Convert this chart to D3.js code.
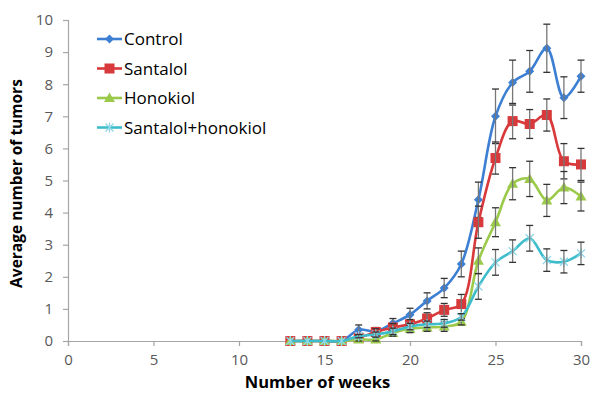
<!DOCTYPE html>
<html>
<head>
<meta charset="utf-8">
<script src="https://cdn.jsdelivr.net/npm/d3@7"></script>
<style>
  html, body { margin: 0; padding: 0; background: #fff; }
  svg { display: block; font-family: "Open Sans", "Liberation Sans", sans-serif; }
</style>
</head>
<body>
<svg id="chart" width="592" height="394"></svg>
<script>
// Weeks of observation
const weeks = [13, 14, 15, 16, 17, 18, 19, 20, 21, 22, 23, 24, 25, 26, 27, 28, 29, 30];

// Mean tumor counts per group, with standard error
const control     = [0, 0, 0, 0, 0.35, 0.3, 0.55, 0.82, 1.25, 1.65, 2.4, 4.4, 7.0, 8.05, 8.4, 9.12, 7.58, 8.25];
const controlErr  = [0, 0, 0, 0, 0.15, 0.12, 0.15, 0.2, 0.25, 0.3, 0.4, 0.55, 0.85, 0.7, 0.65, 0.75, 0.65, 0.5];
const santalol    = [0, 0, 0, 0, 0.1, 0.28, 0.42, 0.52, 0.7, 0.97, 1.15, 3.7, 5.7, 6.85, 6.76, 7.04, 5.6, 5.5];
const santalolErr = [0, 0, 0, 0, 0.08, 0.1, 0.12, 0.15, 0.18, 0.2, 0.3, 0.5, 0.5, 0.55, 0.45, 0.5, 0.55, 0.5];
const honokiol    = [0, 0, 0, 0, 0.05, 0.05, 0.25, 0.38, 0.42, 0.45, 0.6, 2.5, 3.7, 4.9, 5.05, 4.38, 4.78, 4.5];
const honokiolErr = [0, 0, 0, 0, 0.05, 0.08, 0.1, 0.12, 0.12, 0.15, 0.1, 0.4, 0.45, 0.5, 0.55, 0.5, 0.5, 0.45];
const combo       = [0, 0, 0, 0, 0.15, 0.2, 0.3, 0.45, 0.52, 0.55, 0.75, 1.7, 2.45, 2.8, 3.2, 2.52, 2.47, 2.73];
const comboErr    = [0, 0, 0, 0, 0.05, 0.08, 0.1, 0.1, 0.1, 0.12, 0.1, 0.4, 0.4, 0.35, 0.4, 0.35, 0.35, 0.35];

const seriesNames = ["Control", "Santalol", "Honokiol", "Santalol+honokiol"];
const xTicks = [0, 5, 10, 15, 20, 25, 30];
const yTicks = [0, 1, 2, 3, 4, 5, 6, 7, 8, 9, 10];

const series = [
  { name: seriesNames[0], values: control,  err: controlErr,  color: "#3d7fd2", marker: "diamond" },
  { name: seriesNames[1], values: santalol, err: santalolErr, color: "#d8393b", marker: "square" },
  { name: seriesNames[2], values: honokiol, err: honokiolErr, color: "#9bca4a", marker: "triangle" },
  { name: seriesNames[3], values: combo,    err: comboErr,    color: "#3dbdcc", marker: "star" }
];

const svg = d3.select("#chart");
const margin = { left: 68, right: 11, top: 20, bottom: 53 };
const W = 592, H = 394;

const x = d3.scaleLinear().domain([0, 30]).range([margin.left, W - margin.right]);
const y = d3.scaleLinear().domain([0, 10]).range([H - margin.bottom, margin.top]);

// Axes
const axisColor = "#a6a6a6";
const xAxis = svg.append("g")
  .attr("transform", `translate(0,${y(0)})`)
  .call(d3.axisBottom(x).tickValues(xTicks).tickSize(5).tickPadding(8).tickFormat(d3.format("d")));
const yAxis = svg.append("g")
  .attr("transform", `translate(${x(0)},0)`)
  .call(d3.axisLeft(y).tickValues(yTicks).tickSize(5).tickPadding(10).tickFormat(d3.format("d")));

[xAxis, yAxis].forEach(g => {
  g.select(".domain").attr("stroke", axisColor).attr("stroke-width", 1.2);
  g.selectAll(".tick line").attr("stroke", axisColor).attr("stroke-width", 1.2);
  g.selectAll(".tick text").attr("fill", "#595959").attr("font-size", 15)
    .attr("font-family", "Open Sans, sans-serif");
});

// Axis titles
svg.append("text")
  .attr("x", (x(0) + x(30)) / 2 - 7).attr("y", 388)
  .attr("text-anchor", "middle").attr("font-size", 16.5).attr("font-weight", "bold").attr("fill", "#000")
  .text("Number of weeks");
svg.append("text")
  .attr("transform", `translate(22,${(y(0) + y(10)) / 2 + 3}) rotate(-90)`)
  .attr("text-anchor", "middle").attr("font-size", 15.5).attr("font-weight", "bold").attr("fill", "#000")
  .text("Average number of tumors");

// Marker drawing helper
function drawMarker(g, type, color, cx, cy) {
  if (type === "diamond") {
    g.append("path").attr("d", `M${cx},${cy - 4.5}L${cx + 4.5},${cy}L${cx},${cy + 4.5}L${cx - 4.5},${cy}Z`)
      .attr("fill", color);
  } else if (type === "square") {
    g.append("rect").attr("x", cx - 5).attr("y", cy - 5).attr("width", 10).attr("height", 10)
      .attr("fill", color);
  } else if (type === "triangle") {
    g.append("path").attr("d", `M${cx},${cy - 5.5}L${cx + 5.5},${cy + 4}L${cx - 5.5},${cy + 4}Z`)
      .attr("fill", color);
  } else {
    g.append("path")
      .attr("d", `M${cx - 4},${cy - 4}L${cx + 4},${cy + 4}M${cx - 4},${cy + 4}L${cx + 4},${cy - 4}M${cx},${cy - 5}L${cx},${cy + 5}`)
      .attr("stroke", "#8fd6e6").attr("stroke-width", 1.3).attr("fill", "none");
  }
}

const line = d3.line()
  .x(d => x(d.w)).y(d => y(d.v))
  .curve(d3.curveCatmullRom.alpha(0.5));

series.forEach(s => {
  const pts = weeks.map((w, i) => ({ w, v: s.values[i], e: s.err[i] }));
  const g = svg.append("g");

  g.append("path").datum(pts).attr("d", line)
    .attr("fill", "none").attr("stroke", s.color).attr("stroke-width", 2.6)
    .attr("stroke-linejoin", "round");

  pts.forEach(p => drawMarker(g, s.marker, s.color, x(p.w), y(p.v)));

  // Error bars
  const eb = g.append("g").attr("stroke", "#333").attr("stroke-width", 1.3);
  pts.filter(p => p.e > 0).forEach(p => {
    const cx = x(p.w), y1 = y(p.v + p.e), y2 = y(Math.max(0, p.v - p.e));
    eb.append("line").attr("x1", cx).attr("x2", cx).attr("y1", y1).attr("y2", y2).attr("stroke", "#777");
    eb.append("line").attr("x1", cx - 3.5).attr("x2", cx + 3.5).attr("y1", y1).attr("y2", y1);
    eb.append("line").attr("x1", cx - 3.5).attr("x2", cx + 3.5).attr("y1", y2).attr("y2", y2);
  });
});

// Legend
const legend = svg.append("g");
series.forEach((s, i) => {
  const ly = 39 + i * 29.5;
  legend.append("line").attr("x1", 97).attr("x2", 122).attr("y1", ly).attr("y2", ly)
    .attr("stroke", s.color).attr("stroke-width", 2.6);
  drawMarker(legend, s.marker, s.color, 109.5, ly);
  legend.append("text").attr("x", 124).attr("y", ly).attr("dy", "0.36em")
    .attr("font-size", 17).attr("fill", "#000").text(s.name);
});
</script>
</body>
</html>
